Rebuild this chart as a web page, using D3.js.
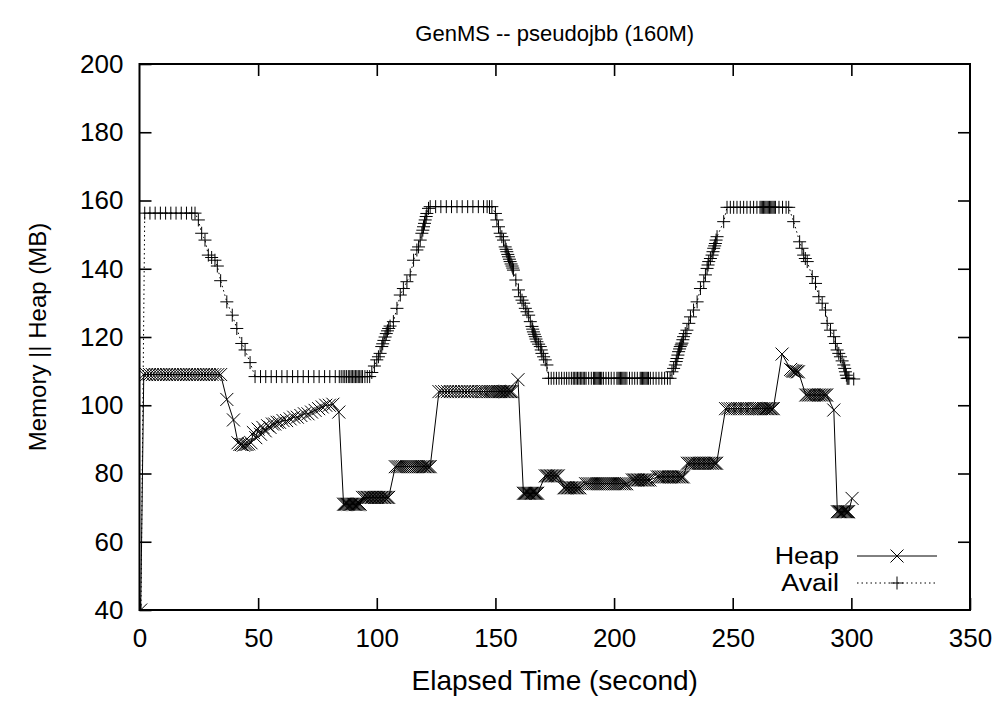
<!DOCTYPE html>
<html>
<head>
<meta charset="utf-8">
<script src="https://cdn.jsdelivr.net/npm/d3@7"></script>
<style>
  body { margin: 0; background: #fff; }
  svg { display: block; }
  text { font-family: "Liberation Sans", Arial, sans-serif; fill: #000; }
</style>
</head>
<body>
<svg id="chart" width="1003" height="702"></svg>
<script>
// chart texts
const title = 'GenMS -- pseudojbb (160M)';
const xLabel = 'Elapsed Time (second)';
const yLabel = 'Memory || Heap (MB)';
const xTicks = [0, 50, 100, 150, 200, 250, 300, 350];
const yTicks = [40, 60, 80, 100, 120, 140, 160, 180, 200];

// Heap series: [elapsed seconds, MB]
const heap = [
  [0.5,40],[1.8,109],[3,109],[4.2,109],[5.4,109],[6.6,109],[7.8,109],[9,109],[10.2,109],[11.4,109],
  [12.6,109],[13.8,109],[15,109],[16.2,109],[17.4,109],[18.6,109],[19.8,109],[21,109],[22.2,109],
  [23.4,109],[24.6,109],[25.8,109],[27,109],[28.2,109],[29.4,109],[30.6,109],[31.8,109],[33,109],[34.2,109],
  [36.8,101.7],[39.6,95.7],
  [41.5,89],[42.3,88.5],[43,88.5],[43.8,88.3],[44.5,88.5],[45.3,88.5],[46,88.7],[47,89],
  [48,92],[49,90.5],[50,93],[51,91.5],[52,93.5],[53,92.5],[54,94],[55,93.5],[56,94.5],[57,94.5],
  [58,95],[59,95],[60.5,95.5],[62,95.5],[63.5,96],[65,96.5],[66.5,96.5],[68,97],[69.5,97.5],[71,97.5],
  [72.5,98],[74,98.5],[75.5,99],[77,99.5],[78.5,100],[80,100],[81.5,100.3],[84,98],
  [86,71],[86.5,71],[87,71],[87.5,71],[88,71],[88.5,71],[89,71],[89.5,71],[90,71],[90.5,71],
  [91,71],[91.5,71],[92,71],[92.5,71],[93,71],
  [94,73],[94.7,73],[95.4,73],[96,73],[96.6,73],[97.2,73],[97.8,73],[98.4,73],[99,73],[99.6,73],
  [100.2,73],[100.8,73],[101.4,73],[102,73],[102.6,73],[103.2,73],[103.8,73],[104.4,73],[105,73],
  [107.8,82],[108.6,82],[109.4,82],[110.2,82],[111,82],[111.8,82],[112.6,82],[113.4,82],[114.2,82],
  [115,82],[115.8,82],[116.6,82],[117.4,82],[118.2,82],[119,82],[119.6,82],[120.2,82],[120.8,82],
  [121.4,82],[122,82],[122.5,82],
  [126.2,104],[127.4,104],[128.6,104],[129.8,104],[131,104],[132.2,104],[133.4,104],[134.6,104],
  [135.8,104],[137,104],[138.2,104],[139.4,104],[140.6,104],[141.8,104],[143,104],[144,104],[145,104],
  [146,104],[147,104],[147.8,104],[148.6,104],[149.4,104],[150.2,104],[151,104],[151.6,104],
  [152.2,104],[152.8,104],[153.4,104],[154,104],[154.6,104],[155.2,104],[155.8,104],[156.4,104],[157,104],
  [159.5,107.5],
  [161.8,74.2],[162.3,74.2],[162.8,74.2],[163.3,74.2],[163.8,74.2],[164.3,74.2],[164.8,74.2],
  [165.3,74.2],[165.8,74.2],[166.3,74.2],[166.8,74.2],[167.3,74.2],[167.8,74.2],
  [171,79.3],[171.6,79.3],[172.2,79.3],[172.8,79.3],[173.4,79.3],[174,79.3],[174.6,79.3],
  [175.2,79.3],[175.8,79.3],[176.5,79.3],
  [178.9,75.8],[179.5,75.8],[180.1,75.8],[180.7,75.8],[181.3,75.8],[181.9,75.8],[182.5,75.8],
  [183.1,75.8],[183.7,75.8],[184.3,75.8],[184.9,75.8],[185.6,75.8],
  [188,77],[188.8,77],[189.6,77],[190.4,77],[191.2,77],[192,77],[192.8,77],[193.6,77],[194.4,77],
  [195.2,77],[196,77],[196.8,77],[197.6,77],[198.4,77],[199.2,77],[200,77],[200.8,77],[201.6,77],
  [202.4,77],[203.2,77],[204,77],[204.6,77],[205.3,77],
  [207.7,78.1],[208.3,78.1],[208.9,78.1],[209.5,78.1],[210.1,78.1],[210.7,78.1],[211.3,78.1],
  [211.9,78.1],[212.5,78.1],[213.1,78.1],[213.7,78.1],[214.3,78.1],[215.1,78.1],
  [218.2,79],[218.9,79],[219.6,79],[220.3,79],[221,79],[221.7,79],[222.4,79],[223.1,79],[223.8,79],
  [224.5,79],[225.2,79],[225.9,79],[226.6,79],[227.3,79],[228,79],[228.6,79],[229.2,79],
  [230.9,83],[231.6,83],[232.3,83],[233,83],[233.7,83],[234.4,83],[235.1,83],[235.8,83],[236.5,83],
  [237.2,83],[237.9,83],[238.6,83],[239.3,83],[240,83],[240.7,83],[241.4,83],[242.1,83],[242.7,83],[243.2,83],
  [247,99],[248,99],[249,99],[250,99],[251,99],[252,99],[253,99],[254,99],[255,99],[256,99],[257,99],
  [258,99],[259,99],[259.8,99],[260.6,99],[261.4,99],[262.2,99],[263,99],[263.6,99],[264.2,99],
  [264.8,99],[265.4,99],[266,99],[266.6,99],[267.1,99],
  [270.8,115],
  [274.4,110.5],[275,110.2],[275.5,110],[276,110],[276.6,110],[277.1,109.8],[277.7,109.8],
  [280.8,103],[281.5,103],[282.2,103],[282.9,103],[283.6,103],[284.3,103],[285,103],[285.7,103],
  [286.4,103],[287.1,103],[287.8,103],[288.5,103],[289.1,103],[289.6,103],
  [292.6,98.6],
  [294.1,68.8],[294.6,68.8],[295.1,68.8],[295.6,68.8],[296.1,68.8],[296.6,68.8],[297.1,68.8],
  [297.6,68.8],[298.1,68.8],[298.5,68.8],[298.8,68.8],
  [300.3,72.7]
];

// Avail series: [elapsed seconds, MB]
const avail = [
  [0.6,40],[2.2,156.3],[4.4,156.3],[6.6,156.3],[8.8,156.3],[11,156.3],[13.2,156.3],[15.4,156.3],
  [17.6,156.3],[19.8,156.3],[22,156.3],[23.4,156.3],
  [24.8,154.3],[26.2,150.4],[27.6,148.4],[29,144],[30.4,143.3],[31.8,142.5],[32.8,140.8],[34.2,136.5],
  [36.8,130.3],[39.1,126.4],[41,122.5],[43.1,118.1],[44.5,116.2],[46.6,112.5],
  [48.7,108.4],[51,108.4],[53.2,108.4],[55.5,108.4],[57.7,108.4],[60,108.4],[62.2,108.4],[64.5,108.4],
  [66.7,108.4],[69,108.4],[71.2,108.4],[73.5,108.4],[75.7,108.4],[78,108.4],[80.2,108.4],[82.5,108.4],
  [84.2,108.4],[85,108.4],[85.8,108.4],[86.5,108.4],[87.2,108.4],[88,108.4],[88.6,108.4],[89.2,108.4],
  [89.8,108.4],[90.4,108.4],[91,108.4],[91.6,108.4],[92.2,108.4],[92.8,108.4],[93.4,108.4],[94,108.4],
  [95,108.4],[96,108.4],[97,108.4],
  [97.9,109.6],[99,111.5],[100,113.3],[100.7,114.2],[101.4,115.2],[102.1,117.2],[102.5,118],[103,119],
  [103.5,120],[104,121],[104.5,121.8],[105,122.5],[105.6,123.2],[107,124.5],[108.5,128.4],[109.9,132.3],
  [111.2,134.2],[112.7,136.2],[114.1,138.2],[115.5,142.5],[116.9,145.5],[117.6,146.4],[118.3,148.4],
  [119,150.4],[119.4,151.3],[119.7,152.3],[120.1,153.3],[120.4,154.3],[120.8,155.3],[121.1,156.2],[121.8,157.7],
  [122.5,158.2],[124.8,158.2],[127,158.2],[129.3,158.2],[131.5,158.2],[133.8,158.2],[136,158.2],
  [138.3,158.2],[140.5,158.2],[142.8,158.2],[145,158.2],[146.5,158.2],[147.5,158.2],[148.5,158.2],
  [150,156.2],[150.6,154.3],[151.3,152.3],[152,150.4],[152.7,149.4],[153.4,148.4],[154.1,146.4],
  [154.5,145.7],[154.8,145],[155.2,144.2],[155.5,143.5],[155.9,142.8],[156.2,142.1],[156.6,141.4],
  [157,140.8],[157.3,140.2],[157.6,139.6],[158.6,136.7],[159.7,133.8],[160.5,131.8],[161.2,130.8],
  [161.9,129.9],[162.6,128.4],[163.3,127.4],[164,126.4],[164.7,124.5],[165.4,123.1],[165.7,122.3],
  [166,121.5],[166.4,120.8],[166.8,120.1],[167.1,119.4],[167.5,118.6],[168.2,117.9],[168.9,117.2],
  [169.3,116.2],[169.6,115.2],[170.3,114.2],[171,113.3],[171.7,111.8],
  [172.4,107.9],[173.5,107.9],[174.6,107.9],[175.7,107.9],[176.8,107.9],[177.9,107.9],[179,107.9],
  [180,107.9],[181,107.9],[182,107.9],[182.8,107.9],[183.4,107.9],[184,107.9],[184.6,107.9],
  [185.2,107.9],[185.8,107.9],[186.4,107.9],[187,107.9],[187.6,107.9],[188.2,107.9],[189.3,107.9],
  [190.4,107.9],[191.3,107.9],[191.8,107.9],[192.3,107.9],[192.8,107.9],[193.3,107.9],[193.8,107.9],
  [194.3,107.9],[194.8,107.9],[195.5,107.9],[196.6,107.9],[197.7,107.9],[198.8,107.9],[200,107.9],
  [201.2,107.9],[201.7,107.9],[202.2,107.9],[202.7,107.9],[203.2,107.9],[203.7,107.9],[204.2,107.9],
  [204.7,107.9],[205.4,107.9],[206.5,107.9],[207.6,107.9],[208.7,107.9],[209.8,107.9],[211,107.9],
  [211.5,107.9],[212,107.9],[212.5,107.9],[213,107.9],[213.5,107.9],[214,107.9],[214.5,107.9],
  [215.3,107.9],[216.5,107.9],[217.7,107.9],[218.9,107.9],[220.1,107.9],[221.3,107.9],[222.5,107.9],
  [223.6,107.9],
  [224.4,109.8],[225.1,110.8],[225.8,111.8],[226.2,112.8],[226.5,113.7],[226.9,114.7],[227.2,115.7],
  [227.6,116.5],[227.9,117.2],[228.3,117.7],[228.6,118.2],[229,119.2],[229.3,120.1],[230,121],
  [230.7,122],[231.5,124],[232.2,125.9],[233.5,127.9],[235,130.3],[236.4,134.2],[237.8,136.2],
  [238.5,138.2],[239.2,140.1],[239.6,141.1],[239.9,142.1],[240.6,143],[241.3,144],[241.7,145],
  [242,146],[242.4,146.7],[242.7,147.4],[243,148.4],[243.4,149.4],[246.2,153.8],
  [247.6,158],[249,158],[250.4,158],[251.8,158],[253.2,158],[254.6,158],[256,158],[257.4,158],
  [258.8,158],[260.2,158],[261.5,158],[262,158],[262.5,158],[263,158],[263.5,158],[264,158],
  [264.5,158],[265,158],[265.5,158],[266,158],[266.5,158],[267,158],[267.5,158],[268,158],
  [269.5,158],[271,158],[272.5,158],[273.6,158],
  [275.7,153.8],[278.2,147.9],[279.2,146],[279.9,144],[280.6,143],[281.4,142.1],[283.5,137.7],
  [284.9,135.7],[286.3,131.8],[287.7,129.9],[289.1,127.9],[289.8,124],[291.2,122],[292.6,120.1],
  [293.3,118.1],[294,116.2],[294.7,115.2],[295.4,114.2],[296.1,113],[296.8,111.8],[297.2,110.8],
  [297.5,109.8],[297.9,108.8],[298.2,107.9],[298.6,107.9],[299,107.9],[301,107.7]
];

const W = 1003, H = 702;
const margin = { left: 139.5, right: 33, top: 64, bottom: 92 };
const tickFont = 26;
const titleFont = 22;
const xLabelFont = 28;
const yLabelFont = 24;
const legendFont = 23;

const svg = d3.select('#chart');

const x = d3.scaleLinear().domain([0, 350]).range([margin.left, W - margin.right]);
const y = d3.scaleLinear().domain([40, 200]).range([H - margin.bottom, margin.top]);

// clip the series to the plot box
svg.append('clipPath').attr('id', 'plotClip')
  .append('rect')
  .attr('x', x(0)).attr('y', y(200))
  .attr('width', x(350) - x(0)).attr('height', y(40) - y(200));

// gnuplot style point symbols
const crossPath = s => `M${-s},${-s}L${s},${s}M${-s},${s}L${s},${-s}`;
const plusPath = s => `M${-s},0H${s}M0,${-s}V${s}`;
const ptSize = 6.5;

const line = d3.line().x(d => x(d[0])).y(d => y(d[1]));

const plot = svg.append('g').attr('clip-path', 'url(#plotClip)');

// avail: dotted line with plus points
plot.append('path')
  .datum(avail)
  .attr('d', line)
  .attr('fill', 'none')
  .attr('stroke', '#000')
  .attr('stroke-width', 1)
  .attr('stroke-dasharray', '1.5,3');
plot.append('g').selectAll('path')
  .data(avail)
  .join('path')
  .attr('transform', d => `translate(${x(d[0])},${y(d[1])})`)
  .attr('d', plusPath(ptSize))
  .attr('stroke', '#000')
  .attr('stroke-width', 1);

// heap: solid line with cross points
plot.append('path')
  .datum(heap)
  .attr('d', line)
  .attr('fill', 'none')
  .attr('stroke', '#000')
  .attr('stroke-width', 1);
plot.append('g').selectAll('path')
  .data(heap)
  .join('path')
  .attr('transform', d => `translate(${x(d[0])},${y(d[1])})`)
  .attr('d', crossPath(ptSize))
  .attr('stroke', '#000')
  .attr('stroke-width', 1);

// axes, ticks pointing inward and mirrored on all sides
const tickLen = 12;
const styleAxis = g => {
  g.select('.domain').remove();
  g.selectAll('.tick line').attr('stroke', '#000').attr('stroke-width', 1.6);
  g.selectAll('.tick text').attr('font-size', tickFont).attr('fill', '#000')
    .attr('font-family', '"Liberation Sans", Arial, sans-serif');
};

svg.append('g')
  .attr('transform', `translate(0,${y(40)})`)
  .call(d3.axisBottom(x).tickValues(xTicks).tickSize(-tickLen).tickPadding(19))
  .call(styleAxis);
svg.append('g')
  .attr('transform', `translate(0,${y(200)})`)
  .call(d3.axisTop(x).tickValues(xTicks.slice(1, -1)).tickSize(-tickLen).tickFormat(''))
  .call(styleAxis);
svg.append('g')
  .attr('transform', `translate(${x(0)},0)`)
  .call(d3.axisLeft(y).tickValues(yTicks).tickSize(-tickLen).tickPadding(16))
  .call(styleAxis);
svg.append('g')
  .attr('transform', `translate(${x(350)},0)`)
  .call(d3.axisRight(y).tickValues(yTicks.slice(1, -1)).tickSize(-tickLen).tickFormat(''))
  .call(styleAxis);

// plot border
svg.append('rect')
  .attr('x', x(0)).attr('y', y(200))
  .attr('width', x(350) - x(0)).attr('height', y(40) - y(200))
  .attr('fill', 'none')
  .attr('stroke', '#000')
  .attr('stroke-width', 2);

// titles
svg.append('text')
  .attr('x', (x(0) + x(350)) / 2).attr('y', 41)
  .attr('text-anchor', 'middle')
  .attr('font-size', titleFont)
  .text(title);
svg.append('text')
  .attr('x', (x(0) + x(350)) / 2).attr('y', 690)
  .attr('text-anchor', 'middle')
  .attr('font-size', xLabelFont)
  .text(xLabel);
svg.append('text')
  .attr('transform', `translate(46,${(y(40) + y(200)) / 2}) rotate(-90)`)
  .attr('text-anchor', 'middle')
  .attr('font-size', yLabelFont)
  .text(yLabel);

// legend (text a little stretched sideways, as in the source image)
const legend = [
  { name: 'Heap', y: 556, dash: null, sym: crossPath },
  { name: 'Avail', y: 583, dash: '1.5,3', sym: plusPath }
];
const lg = svg.append('g').selectAll('g').data(legend).join('g');
lg.append('text')
  .attr('transform', d => `translate(839,${d.y}) scale(1.17,1)`)
  .attr('dy', '0.35em')
  .attr('text-anchor', 'end')
  .attr('font-size', legendFont)
  .text(d => d.name);
lg.append('line')
  .attr('x1', 857).attr('x2', 937)
  .attr('y1', d => d.y).attr('y2', d => d.y)
  .attr('stroke', '#000').attr('stroke-width', 1)
  .attr('stroke-dasharray', d => d.dash);
lg.append('path')
  .attr('transform', d => `translate(897,${d.y})`)
  .attr('d', d => d.sym(ptSize))
  .attr('stroke', '#000').attr('stroke-width', 1);
</script>
</body>
</html>
